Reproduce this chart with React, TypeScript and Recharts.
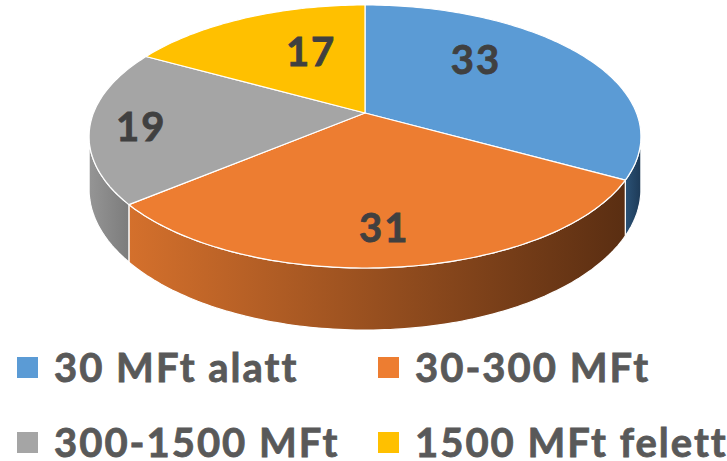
import React from "react";
import { PieChart, Pie, Legend } from "recharts";

// data
const categories = ["30 MFt alatt", "30-300 MFt", "300-1500 MFt", "1500 MFt felett"];
const values = [33, 31, 19, 17];
const colors = ["#5B9BD5", "#ED7D31", "#A5A5A5", "#FFC000"];
const sideColors = [
  ["#2b5276", "#1d3a57"],
  ["#d4702c", "#5a2e12"],
  ["#959595", "#7c7c7c"],
  ["#c79600", "#8a6800"],
];

const data = categories.map((name, i) => ({ name, value: values[i] }));

// fake 3D perspective of the pie
const RX = 271.5;
const RY = 127.3;
const PERSP = 0.1786;
const DEPTH = 51;
const FRONT_FROM = 100.4;
const FRONT_TO = 259.6;
const LABEL_R = 0.6;
const LABEL_SHIFT = [
  [-23, -16],
  [1, 30],
  [-61, 7],
  [21, -1],
];
const FONT = "Lato, 'Open Sans', sans-serif";
const SPACING = 2.0;

// phi: degrees clockwise from 12 o'clock
const project = (cx: number, cy: number, phi: number, r = 1) => {
  const a = (phi * Math.PI) / 180;
  const x = r * Math.sin(a);
  const y = -r * Math.cos(a);
  const d = 1 - PERSP * y;
  return { x: cx + (RX * x) / d, y: cy + (RY * y) / d, d };
};

const toPhi = (angle: number) => 90 - angle;

const arcPoints = (cx: number, cy: number, from: number, to: number) => {
  const pts = [];
  const steps = Math.max(2, Math.ceil(Math.abs(to - from)));
  for (let k = 0; k <= steps; k++) {
    pts.push(project(cx, cy, from + ((to - from) * k) / steps));
  }
  return pts;
};

const renderSide = (props: any) => {
  const { cx, cy, startAngle, endAngle, index } = props;
  const from = Math.max(toPhi(startAngle), FRONT_FROM);
  const to = Math.min(toPhi(endAngle), FRONT_TO);
  if (to <= from) return <g key={"s" + index} />;
  const top = arcPoints(cx, cy, from, to);
  const bottom = top.map((p) => ({ x: p.x, y: p.y + DEPTH / p.d })).reverse();
  const d =
    "M" +
    [...top, ...bottom].map((p) => `${p.x.toFixed(1)},${p.y.toFixed(1)}`).join("L") +
    "Z";
  return (
    <path
      key={"s" + index}
      d={d}
      fill={`url(#side${index})`}
      stroke="#ffffff"
      strokeWidth={1.2}
    />
  );
};

const renderTop = (props: any) => {
  const { cx, cy, startAngle, endAngle, index } = props;
  const pts = arcPoints(cx, cy, toPhi(startAngle), toPhi(endAngle));
  const d =
    `M${cx},${cy}L` + pts.map((p) => `${p.x.toFixed(1)},${p.y.toFixed(1)}`).join("L") + "Z";
  return (
    <path
      key={"t" + index}
      d={d}
      fill={colors[index]}
      stroke="#ffffff"
      strokeWidth={1.2}
      strokeLinejoin="round"
    />
  );
};

const renderValue = (props: any) => {
  const { cx, cy, midAngle, index, value } = props;
  const p = project(cx, cy, toPhi(midAngle), LABEL_R);
  return (
    <text
      key={"v" + index}
      x={p.x + LABEL_SHIFT[index][0] + 1}
      y={p.y + LABEL_SHIFT[index][1] + 14}
      textAnchor="middle"
      fill="#404040"
      stroke="#404040"
      strokeWidth={0.8}
      letterSpacing={SPACING}
      fontSize={40}
      fontWeight={700}
      fontFamily={FONT}
    >
      {value}
    </text>
  );
};

const renderLegend = () => (
  <svg width={727} height={131} style={{ overflow: "visible" }}>
    {categories.map((c, i) => {
      const col = i % 2;
      const row = Math.floor(i / 2);
      const x = col === 0 ? 17 : 378;
      const y = row === 0 ? 27 : 102;
      return (
        <g key={c}>
          <rect x={x} y={y} width={21} height={21} fill={colors[i]} />
          <text
            x={x + 37}
            y={y + 24.5}
            fill="#595959"
            stroke="#595959"
            strokeWidth={0.8}
            letterSpacing={SPACING}
            fontSize={40}
            fontWeight={700}
            fontFamily={FONT}
          >
            {c}
          </text>
        </g>
      );
    })}
  </svg>
);

export default function App() {
  return (
    <div style={{ position: "absolute", left: 0, top: 0, background: "#ffffff" }}>
      <PieChart width={727} height={461} margin={{ top: 0, right: 0, bottom: 0, left: 0 }}>
        <defs>
          {sideColors.map((s, i) => (
            <linearGradient key={i} id={`side${i}`} x1="0" y1="0" x2="1" y2="0">
              <stop offset="0%" stopColor={s[0]} />
              <stop offset="100%" stopColor={s[1]} />
            </linearGradient>
          ))}
        </defs>
        <Pie
          data={data}
          dataKey="value"
          nameKey="name"
          cx={365}
          cy={113}
          outerRadius={100}
          startAngle={90}
          endAngle={-270}
          fill="none"
          stroke="none"
          label={renderSide}
          labelLine={false}
          legendType="none"
          isAnimationActive={false}
        />
        <Pie
          data={data}
          dataKey="value"
          nameKey="name"
          cx={365}
          cy={113}
          outerRadius={100}
          startAngle={90}
          endAngle={-270}
          fill="none"
          stroke="none"
          label={renderTop}
          labelLine={false}
          legendType="none"
          isAnimationActive={false}
        />
        <Pie
          data={data}
          dataKey="value"
          nameKey="name"
          cx={365}
          cy={113}
          outerRadius={100}
          startAngle={90}
          endAngle={-270}
          fill="none"
          stroke="none"
          label={renderValue}
          labelLine={false}
          legendType="none"
          isAnimationActive={false}
        />
        <Legend
          content={renderLegend}
          wrapperStyle={{ position: "absolute", left: 0, top: 330, width: 727, height: 131 }}
        />
      </PieChart>
    </div>
  );
}
